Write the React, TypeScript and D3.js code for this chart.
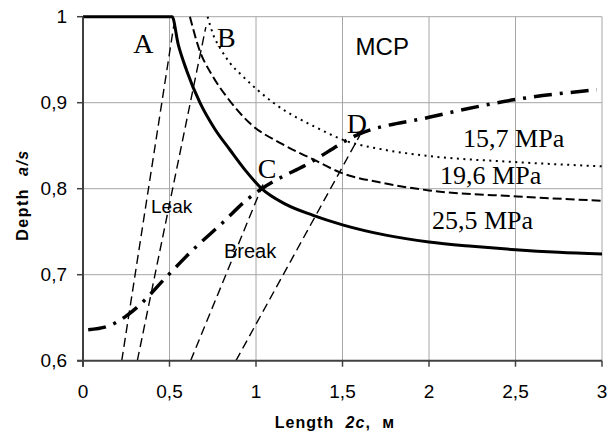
import React from 'react';
import * as d3 from 'd3';

// values: [length 2c, depth a/s]
const curve255 = [
  [0, 1], [0.515, 1], [0.55, 0.968], [0.6, 0.937], [0.676, 0.9], [0.76, 0.87], [0.85, 0.845],
  [0.94, 0.821], [1.033, 0.8], [1.17, 0.782], [1.33, 0.769], [1.5, 0.758], [1.75, 0.746],
  [2, 0.738], [2.25, 0.733], [2.5, 0.729], [2.75, 0.726], [3, 0.724],
];
const curve196 = [
  [0.618, 1], [0.667, 0.965], [0.752, 0.93], [0.83, 0.907], [0.965, 0.876], [1.15, 0.852],
  [1.331, 0.834], [1.486, 0.819], [1.75, 0.806], [2, 0.798], [2.51, 0.791], [3, 0.786],
];
const curve157 = [
  [0.72, 1], [0.753, 0.979], [0.8, 0.961], [0.85, 0.946], [0.917, 0.932], [1.1, 0.9],
  [1.37, 0.869], [1.5, 0.857], [1.75, 0.845], [2, 0.838], [2.5, 0.831], [3, 0.826],
];
const mcpCurve = [
  [0.03, 0.636], [0.156, 0.641], [0.243, 0.651], [0.318, 0.663], [0.485, 0.698], [0.636, 0.729],
  [0.81, 0.761], [0.946, 0.787], [1.033, 0.8], [1.31, 0.83], [1.58, 0.862], [2, 0.883],
  [2.51, 0.904], [2.97, 0.915],
];
const leakLines = [
  [[0.224, 0.6], [0.525, 0.99]],
  [[0.314, 0.6], [0.71, 0.988]],
];
const breakLines = [
  [[0.622, 0.6], [1.04, 0.805]],
  [[0.884, 0.6], [1.6, 0.862]],
];
const xTicks = [0, 0.5, 1, 1.5, 2, 2.5, 3];
const yTicks = [0.6, 0.7, 0.8, 0.9, 1];
const pointLabels = [
  { t: 'A', x: 0.29, y: 0.958 },
  { t: 'B', x: 0.775, y: 0.965 },
  { t: 'C', x: 1.01, y: 0.812 },
  { t: 'D', x: 1.525, y: 0.865 },
];
const pressureLabels = [
  { t: '15,7 MPa', x: 2.197, y: 0.849 },
  { t: '19,6 MPa', x: 2.064, y: 0.805 },
  { t: '25,5 MPa', x: 2.017, y: 0.753 },
];

const fmt = (v: number) => String(v).replace('.', ',');

export default function App() {
  const W = 608, H = 434;
  const x = d3.scaleLinear().domain([0, 3]).range([83, 602]);
  const y = d3.scaleLinear().domain([0.6, 1]).range([360.7, 16.7]);
  const smooth = d3.line<number[]>().x(d => x(d[0])).y(d => y(d[1])).curve(d3.curveMonotoneX);
  const straight = d3.line<number[]>().x(d => x(d[0])).y(d => y(d[1]));
  const sans = 'Liberation Sans, Arial, sans-serif';
  const serif = 'Liberation Serif, Times New Roman, serif';

  return (
    <div style={{ position: 'absolute', left: 0, top: 0 }}>
      <svg width={W} height={H} style={{ display: 'block', background: '#fff' }}>
        {/* grid */}
        {xTicks.filter(v => v > 0).map(v => (
          <line key={'gx' + v} x1={x(v)} x2={x(v)} y1={y(1)} y2={y(0.6)} stroke="#a6a6a6" strokeWidth={1} />
        ))}
        {yTicks.filter(v => v > 0.6).map(v => (
          <line key={'gy' + v} x1={x(0)} x2={x(3)} y1={y(v)} y2={y(v)} stroke="#a6a6a6" strokeWidth={1} />
        ))}

        {/* straight dashed leak / break lines */}
        {[...leakLines, ...breakLines].map((l, i) => (
          <path key={'l' + i} d={straight(l) || ''} fill="none" stroke="#000" strokeWidth={1.4} strokeDasharray="9,5" />
        ))}

        {/* curves */}
        <path d={smooth(curve157) || ''} fill="none" stroke="#000" strokeWidth={2} strokeDasharray="2,4.5" />
        <path d={smooth(curve196) || ''} fill="none" stroke="#000" strokeWidth={2} strokeDasharray="9,4" />
        <path d={smooth(mcpCurve) || ''} fill="none" stroke="#000" strokeWidth={3.5} strokeDasharray="18,8,3,8" />
        <path d={smooth(curve255) || ''} fill="none" stroke="#000" strokeWidth={3} />

        {/* axes */}
        <line x1={x(0)} x2={x(0)} y1={y(1)} y2={y(0.6) + 6} stroke="#404040" strokeWidth={2} />
        <line x1={x(0) - 6} x2={x(3)} y1={y(0.6)} y2={y(0.6)} stroke="#404040" strokeWidth={2} />
        {yTicks.map(v => (
          <g key={'ty' + v}>
            <line x1={x(0) - 6} x2={x(0)} y1={y(v)} y2={y(v)} stroke="#404040" strokeWidth={1.5} />
            <text x={67} y={y(v)} dy="0.35em" textAnchor="end" fontFamily={sans} fontSize={19}>{fmt(v)}</text>
          </g>
        ))}
        {xTicks.map(v => (
          <g key={'tx' + v}>
            <line x1={x(v)} x2={x(v)} y1={y(0.6)} y2={y(0.6) + 6} stroke="#404040" strokeWidth={1.5} />
            <text x={x(v)} y={398} textAnchor="middle" fontFamily={sans} fontSize={19}>{fmt(v)}</text>
          </g>
        ))}

        {/* axis titles */}
        <text x={335} y={428} textAnchor="middle" fontFamily={sans} fontSize={16} fontWeight="bold" letterSpacing={1} wordSpacing={6}>
          Length <tspan fontStyle="italic">2c</tspan>, м
        </text>
        <text transform="translate(28,195) rotate(-90)" textAnchor="middle" fontFamily={sans} fontSize={16} fontWeight="bold" letterSpacing={1.5} wordSpacing={6}>
          Depth <tspan fontStyle="italic">a/s</tspan>
        </text>

        {/* annotations */}
        <text x={x(1.73)} y={55} textAnchor="middle" fontFamily={sans} fontSize={24}>MCP</text>
        <text x={151} y={213} fontFamily={sans} fontSize={19}>Leak</text>
        <text x={224} y={258} fontFamily={sans} fontSize={20}>Break</text>
        {pointLabels.map(p => (
          <text key={p.t} x={x(p.x)} y={y(p.y)} fontFamily={serif} fontSize={28}>{p.t}</text>
        ))}
        {pressureLabels.map(p => (
          <text key={p.t} x={x(p.x)} y={y(p.y)} fontFamily={serif} fontSize={26}>{p.t}</text>
        ))}
      </svg>
    </div>
  );
}
